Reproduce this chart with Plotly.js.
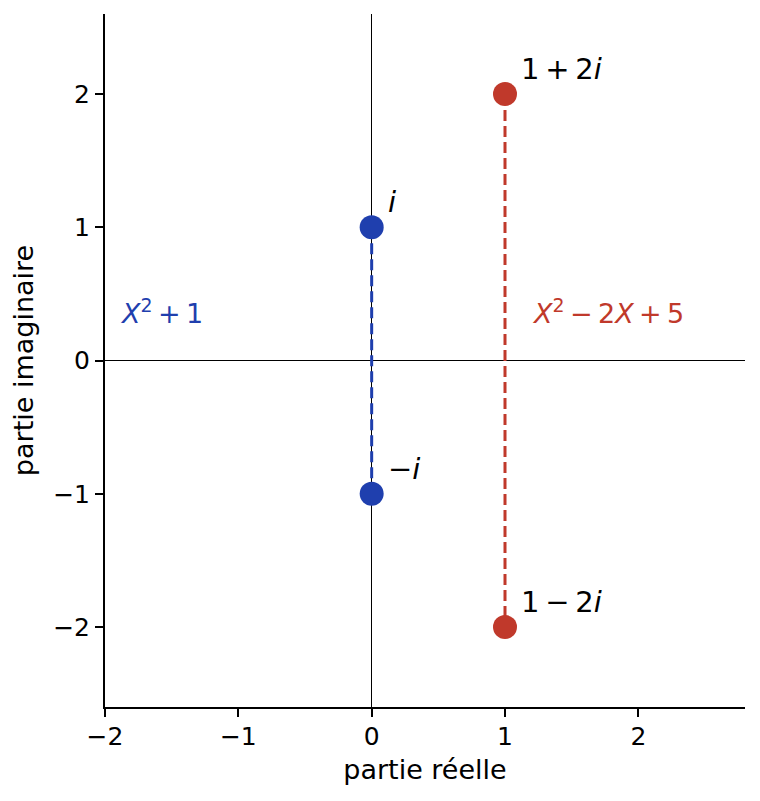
<!DOCTYPE html>
<html>
<head>
<meta charset="utf-8">
<script src="https://cdn.plot.ly/plotly-3.0.1.min.js"></script>
<style>
  body { margin: 0; background: #fff; }
  #chart { width: 760px; height: 801px; }
</style>
</head>
<body>
<div id="chart"></div>
<script>
// racines de X^2 + 1
const bleuRe = [0, 0];
const bleuIm = [1, -1];
const bleuLabels = ['<i>i</i>', '−<i>i</i>'];

// racines de X^2 - 2X + 5
const rougeRe = [1, 1];
const rougeIm = [2, -2];
const rougeLabels = ['1\u2009+\u20092<i>i</i>', '1\u2009−\u20092<i>i</i>'];

const polyNames = ['<i>X</i><sup>2</sup>\u2009+\u20091', '<i>X</i><sup>2</sup>\u2009−\u20092<i>X</i>\u2009+\u20095'];
const polyPos = [[-1.9, 0.37], [1.19, 0.37]];

const BLEU = '#1f3fae';
const ROUGE = '#c0392b';
const FONT = 'DejaVu Sans, sans-serif';

function serie(re, im, color) {
  return {
    x: re, y: im,
    type: 'scatter',
    mode: 'lines+markers',
    line: { color: color, width: 3, dash: '11px,5px' },
    marker: { color: color, size: 24 },
    hoverinfo: 'skip'
  };
}

const annotations = [];
function ajouteLabels(re, im, labels) {
  labels.forEach((txt, k) => {
    annotations.push({
      x: re[k], y: im[k], text: txt, showarrow: false,
      xanchor: 'left', yanchor: 'middle', xshift: 14, yshift: 25,
      font: { family: FONT, size: 29, color: '#000' }
    });
  });
}
ajouteLabels(bleuRe, bleuIm, bleuLabels);
ajouteLabels(rougeRe, rougeIm, rougeLabels);

[BLEU, ROUGE].forEach((c, k) => {
  annotations.push({
    x: polyPos[k][0], y: polyPos[k][1], text: polyNames[k], showarrow: false,
    xanchor: 'left', yanchor: 'middle',
    font: { family: FONT, size: 27, color: c }
  });
});

const axeCommun = {
  tickvals: [-2, -1, 0, 1, 2],
  showgrid: false, zeroline: true, zerolinecolor: '#000', zerolinewidth: 1,
  showline: true, linecolor: '#000', linewidth: 2,
  ticks: 'outside', ticklen: 8, tickwidth: 2, tickcolor: '#000',
  tickfont: { size: 25 }
};

Plotly.newPlot('chart', [serie(bleuRe, bleuIm, BLEU), serie(rougeRe, rougeIm, ROUGE)], {
  width: 760, height: 801,
  margin: { l: 105, r: 15, t: 14, b: 94 },
  showlegend: false,
  paper_bgcolor: '#fff', plot_bgcolor: '#fff',
  font: { family: FONT, size: 25, color: '#000' },
  xaxis: Object.assign({}, axeCommun, {
    range: [-2, 2.8], ticklabelstandoff: -2,
    title: { text: 'partie réelle', font: { size: 27 }, standoff: 10 }
  }),
  yaxis: Object.assign({}, axeCommun, {
    range: [-2.6, 2.6],
    title: { text: 'partie imaginaire', font: { size: 27 }, standoff: 12 }
  }),
  annotations: annotations
}, { displayModeBar: false, staticPlot: true });
</script>
</body>
</html>
